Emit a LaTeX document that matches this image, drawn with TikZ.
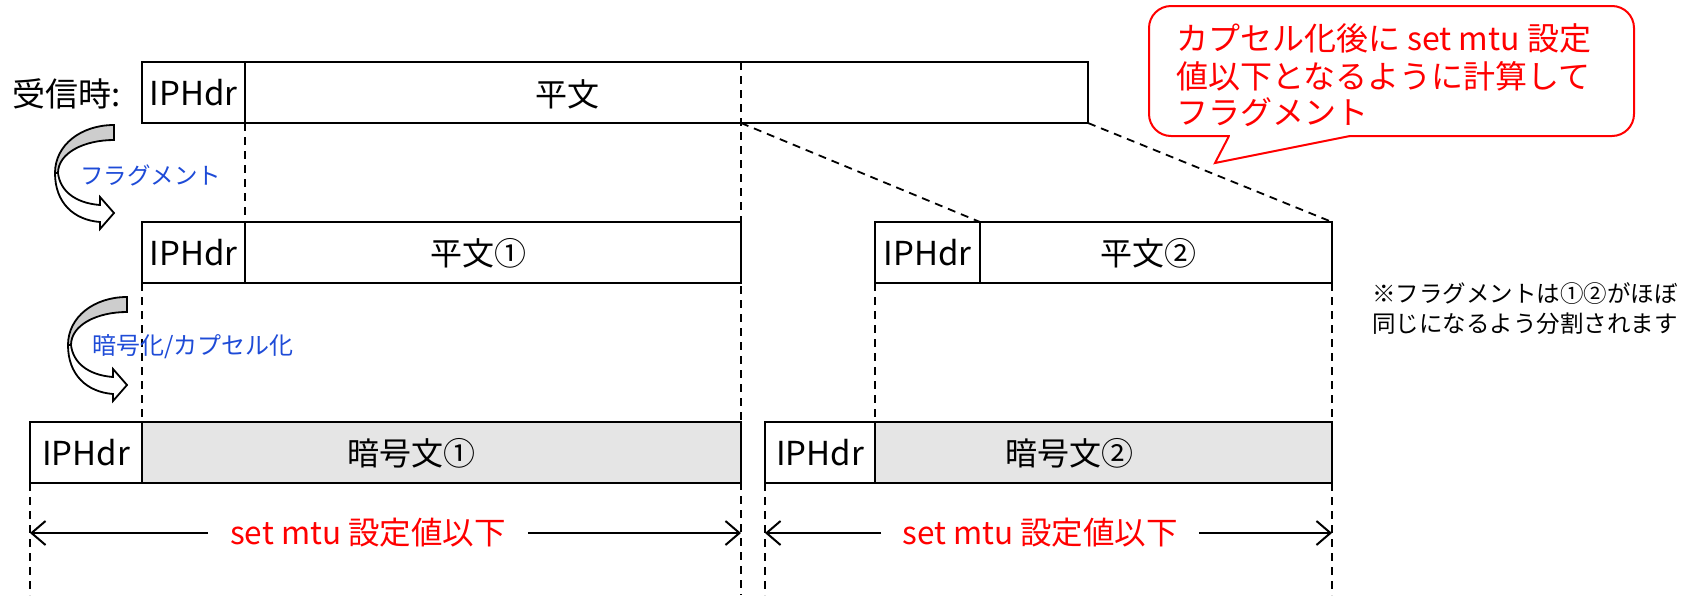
\documentclass[tikz,border=0pt]{standalone}
\usepackage{fontspec}
\setmainfont{Noto Sans CJK JP}
\usetikzlibrary{arrows.meta}
\definecolor{lblue}{RGB}{30,75,215}
\definecolor{cgray}{RGB}{229,229,229}
\definecolor{agray}{RGB}{205,205,205}
\newcommand{\fsz}[2]{\fontsize{#1}{#2}\selectfont}
\begin{document}
\begin{tikzpicture}[x=1pt,y=-1pt,
  cell/.style={draw, line width=2pt, minimum height=61pt, inner sep=0pt, outer sep=0pt, anchor=north west, font=\fsz{33}{38}},
  ccell/.style={cell, fill=cgray, line width=2.4pt},
  txt/.style={inner sep=0pt, font=\fsz{32}{38}},
  dline/.style={line width=1.8pt, dash pattern=on 8pt off 6pt},
  dimarr/.style={line width=2pt, -{Straight Barb[length=14pt,width=24pt]}},
  redlbl/.style={text=red, font=\fsz{31.5}{34}, inner ysep=0pt},
  bluelbl/.style={text=lblue, inner sep=0pt, anchor=west},
  calltxt/.style={text=red, inner sep=0pt, anchor=base west, font=\fsz{32}{38}},
  notetxt/.style={inner sep=0pt, anchor=base west, font=\fsz{23.5}{30}},
  curvarr/.pic={
    \draw[line width=1.8pt, fill=white, line join=miter]
      (-59,48) .. controls (-59,78) and (-40,95) .. (-14,97) -- (-14,104) -- (0,88) -- (-14,72) -- (-14,80)
      .. controls (-40,78) and (-54,65) .. (-56,48) -- cycle;
    \draw[line width=1.8pt, fill=agray]
      (0,0) .. controls (-33,0) and (-59,20) .. (-59,48) -- (-56,48)
      .. controls (-56,28) and (-30,15) .. (0,15) -- cycle;
  }]
\useasboundingbox (0,0) rectangle (1702,595);

% coordinates for guide lines
\coordinate (s1) at (741,62);
\coordinate (s1b) at (741,595);
\coordinate (b30) at (30,595);
\coordinate (b765) at (765,595);
\coordinate (b1332) at (1332,595);

% ---- boxes
% row 1
\node[cell, minimum width=103pt] (r1h) at (142,62) {IPHdr};
\node[cell, minimum width=843pt] (r1p) at (245,62) {};
% row 2
\node[cell, fill=white, minimum width=103pt] (r2h) at (142,222) {IPHdr};
\node[cell, minimum width=496pt] (r2p) at (245,222) {};
\node[cell, fill=white, minimum width=105pt] (r2h2) at (875,222) {IPHdr};
\node[cell, minimum width=352pt] (r2p2) at (980,222) {};
% row 3
\node[cell, fill=white, minimum width=112pt] (r3h) at (30,422) {IPHdr};
\node[ccell, minimum width=599pt] (r3c) at (142,422) {};
\node[cell, fill=white, minimum width=110pt] (r3h2) at (765,422) {IPHdr};
\node[ccell, minimum width=457pt] (r3c2) at (875,422) {};

% ---- dashed guides
\draw[dline] (s1) -- (s1b);
\draw[dline] (r1h.south east) -- (r2h.north east);
\draw[dline] (r2h.south west) -- (r3c.north west);
\draw[dline] (r2h2.south west) -- (r3c2.north west);
\draw[dline] (r2p2.south east) -- (r3c2.north east);
\draw[dline] (r3c2.south east) -- (b1332);
\draw[dline] (r3h.south west) -- (b30);
\draw[dline] (r3h2.south west) -- (b765);
\draw[dline] (r1p.south -| s1) -- (r2h2.north east);
\draw[dline] (r1p.south east) -- (r2p2.north east);

% ---- texts in boxes
\node[txt] (t1) at (567,94) {平文};
\node[txt] (t2) at (478,253) {平文①};
\node[txt] (t3) at (1148,253) {平文②};
\node[txt] (t4) at (411,453) {暗号文①};
\node[txt] (t5) at (1069,453) {暗号文②};

% ---- left labels and curved arrows
\node[inner sep=0pt, anchor=west, font=\fsz{33}{38}] (rx) at (12,94) {受信時:};
\pic at (114,125) {curvarr};
\pic at (127,297) {curvarr};
\node[bluelbl, font=\fsz{23.5}{28}] (lf) at (80,175) {フラグメント};
\node[bluelbl, font=\fsz{24}{28}] (le) at (92,347) {暗号化/カプセル化};

% ---- dimension arrows
\coordinate (a1l) at (30,533);
\coordinate (a1r) at (741,533);
\coordinate (a2l) at (765,533);
\coordinate (a2r) at (1332,533);
\node[redlbl, inner xsep=22pt] (m1) at (368,533) {set mtu 設定値以下};
\node[redlbl, inner xsep=21pt] (m2) at (1040,533) {set mtu 設定値以下};
\draw[dimarr] (m1.west) -- (a1l);
\draw[dimarr] (m1.east) -- (a1r);
\draw[dimarr] (m2.west) -- (a2l);
\draw[dimarr] (m2.east) -- (a2r);

% ---- callout
\draw[red, line width=2pt, fill=white, rounded corners=22pt] (1149,6) rectangle (1634,136);
\fill[white] (1230,133) rectangle (1349,138.5);
\draw[red, line width=2pt, fill=white, line join=miter] (1229,136) -- (1215,163) -- (1350,136);
\node[calltxt] (c1) at (1176,50) {カプセル化後に set mtu 設定};
\node[calltxt] (c2) at (1176,88) {値以下となるように計算して};
\node[calltxt] (c3) at (1176,124) {フラグメント};

% ---- note
\node[notetxt] (n1) at (1372,302) {※フラグメントは①②がほぼ};
\node[notetxt] (n2) at (1372,332) {同じになるよう分割されます};
\end{tikzpicture}
\end{document}
